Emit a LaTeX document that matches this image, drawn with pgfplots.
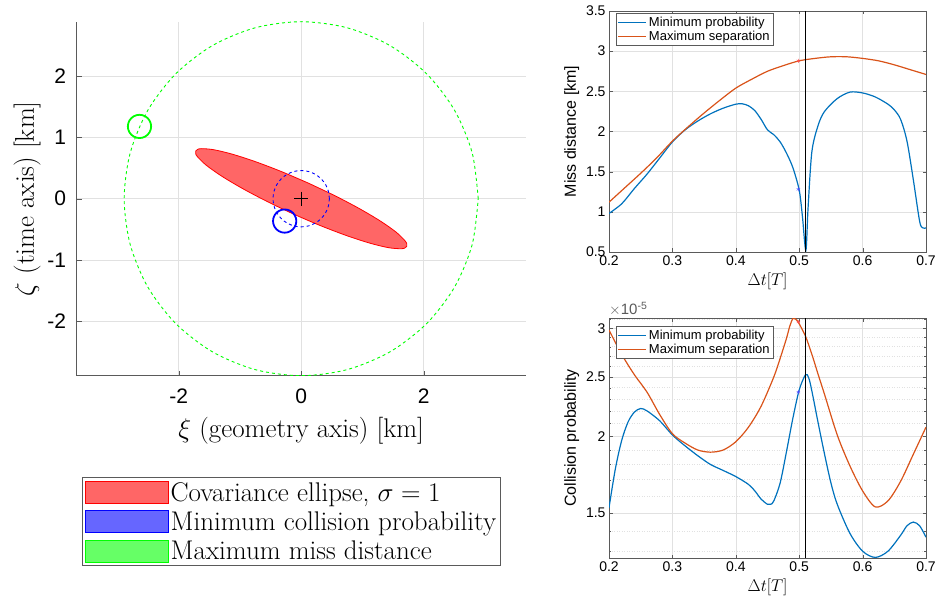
\RequirePackage{fix-cm}
\documentclass[border=0pt]{standalone}
\usepackage[no-math]{fontspec}
\setsansfont{Liberation Sans}
\usepackage{pgfplots}
\usepackage{pgfplotstable}
\pgfplotsset{compat=1.18}
\definecolor{mblue}{RGB}{0,114,189}
\definecolor{morange}{RGB}{217,83,25}
\definecolor{gridc}{RGB}{225,225,225}
\definecolor{axc}{RGB}{90,90,90}

\pgfplotstableread{
c s
1 0
0.9659 0.2588
0.8660 0.5
0.7071 0.7071
0.5 0.8660
0.2588 0.9659
0 1
-0.2588 0.9659
-0.5 0.8660
-0.7071 0.7071
-0.8660 0.5
-0.9659 0.2588
-1 0
-0.9659 -0.2588
-0.8660 -0.5
-0.7071 -0.7071
-0.5 -0.8660
-0.2588 -0.9659
0 -1
0.2588 -0.9659
0.5 -0.8660
0.7071 -0.7071
0.8660 -0.5
0.9659 -0.2588
1 0
}\unitcircle

\pgfplotstableread{
x y
0.1152 0.2552
-0.3345 0.4478
-0.7615 0.6099
-1.1365 0.7304
-1.4341 0.8011
-1.6340 0.8172
-1.6928 0.8043
-1.7225 0.7777
-1.7228 0.7377
-1.6936 0.6852
-1.5493 0.5459
-1.2995 0.3694
-0.9611 0.1679
-0.5571 -0.0452
-0.1152 -0.2552
0.3345 -0.4478
0.7615 -0.6099
1.1365 -0.7304
1.4341 -0.8011
1.6340 -0.8172
1.6928 -0.8043
1.7225 -0.7777
1.7228 -0.7377
1.6936 -0.6852
1.5493 -0.5459
1.2995 -0.3694
0.9611 -0.1679
0.5571 0.0452
0.1152 0.2552
}\ellipsetab

\pgfplotstableread{
x y
0.20 1.12
0.225 1.30
0.25 1.48
0.275 1.67
0.30 1.88
0.325 2.06
0.35 2.23
0.375 2.39
0.40 2.54
0.425 2.65
0.45 2.75
0.475 2.82
0.50 2.88
0.525 2.91
0.55 2.93
0.575 2.93
0.60 2.91
0.625 2.88
0.65 2.83
0.675 2.77
0.70 2.71
}\missmax

\pgfplotstableread{
x y
0.20 0.98
0.22 1.10
0.24 1.29
0.26 1.47
0.28 1.67
0.30 1.87
0.32 2.02
0.34 2.13
0.36 2.22
0.38 2.29
0.40 2.34
0.41 2.345
0.42 2.32
0.43 2.26
0.44 2.15
0.45 2.02
0.46 1.96
0.47 1.87
0.48 1.73
0.49 1.55
0.50 1.27
0.505 0.95
0.5105 0.52
0.514 1.05
0.52 1.75
0.53 2.08
0.54 2.25
0.56 2.41
0.58 2.49
0.60 2.48
0.62 2.43
0.64 2.34
0.65 2.27
0.66 2.15
0.67 1.88
0.68 1.40
0.69 0.88
0.695 0.80
0.70 0.80
}\missmin

\pgfplotstableread{
x y
0.20 2.98e-5
0.22 2.72e-5
0.24 2.52e-5
0.26 2.36e-5
0.28 2.17e-5
0.30 2.02e-5
0.32 1.95e-5
0.34 1.90e-5
0.36 1.885e-5
0.38 1.90e-5
0.40 1.96e-5
0.42 2.07e-5
0.44 2.24e-5
0.46 2.50e-5
0.47 2.68e-5
0.48 2.89e-5
0.485 3.02e-5
0.49 3.11e-5
0.495 3.10e-5
0.50 3.05e-5
0.51 2.91e-5
0.52 2.72e-5
0.53 2.52e-5
0.54 2.34e-5
0.56 2.01e-5
0.58 1.79e-5
0.60 1.63e-5
0.62 1.535e-5
0.64 1.57e-5
0.66 1.69e-5
0.68 1.87e-5
0.70 2.07e-5
}\probmax

\pgfplotstableread{
x y
0.20 1.53e-5
0.21 1.77e-5
0.22 1.97e-5
0.23 2.11e-5
0.24 2.19e-5
0.25 2.22e-5
0.26 2.20e-5
0.28 2.12e-5
0.30 2.01e-5
0.32 1.93e-5
0.34 1.86e-5
0.36 1.80e-5
0.38 1.76e-5
0.40 1.72e-5
0.42 1.67e-5
0.43 1.63e-5
0.44 1.58e-5
0.45 1.55e-5
0.455 1.55e-5
0.46 1.57e-5
0.47 1.68e-5
0.48 1.89e-5
0.49 2.14e-5
0.50 2.38e-5
0.51 2.52e-5
0.515 2.49e-5
0.52 2.37e-5
0.53 2.10e-5
0.54 1.87e-5
0.55 1.68e-5
0.56 1.55e-5
0.58 1.39e-5
0.60 1.30e-5
0.62 1.27e-5
0.64 1.30e-5
0.66 1.38e-5
0.67 1.43e-5
0.68 1.45e-5
0.69 1.43e-5
0.70 1.37e-5
}\probmin

\pgfplotsset{
  mstyle/.style={
    scale only axis, width=317pt,
    xmin=0.2, xmax=0.7, xtick={0.2,0.3,0.4,0.5,0.6,0.7},
    grid=major, grid style={gridc, line width=0.5pt},
    axis line style={axc, line width=0.6pt}, tick style={axc},
    major tick length=3.5pt,
    tick label style={font=\sffamily\fontsize{14}{16}\selectfont},
    /pgf/number format/assume math mode=true,
    ylabel style={font=\sffamily\fontsize{16}{19}\selectfont},
    xlabel style={font=\fontsize{17}{20}\selectfont},
    xlabel={$\Delta t[T]$},
    legend style={font=\sffamily\fontsize{13}{15}\selectfont, draw=axc, line width=0.6pt,
      legend cell align=left, anchor=north west, inner sep=1.5pt, row sep=-1pt},
    legend image code/.code={\draw[##1] (0pt,0pt) -- (28pt,0pt);},
  }
}

\begin{document}
\begin{tikzpicture}
\useasboundingbox (0pt,0pt) rectangle (936pt,603pt);

% ---------------- left panel ----------------
\begin{axis}[
  at={(76.7pt,227.3pt)}, anchor=south west, scale only axis,
  width=449pt, height=354pt,
  xmin=-3.665, xmax=3.665, ymin=-2.89, ymax=2.89,
  axis x line*=bottom, axis y line*=left,
  xtick={-2,0,2}, xticklabels={-2,0,2},
  ytick={-2,-1,0,1,2}, yticklabels={-2,-1,0,1,2},
  grid=major, grid style={gridc, line width=0.7pt},
  axis line style={axc, line width=0.9pt}, tick style={axc},
  major tick length=5pt,
  tick label style={font=\sffamily\fontsize{21}{24}\selectfont},
  xticklabel style={yshift=-10pt},
  yticklabel style={xshift=-7pt},
  xlabel={$\xi$ (geometry axis) [km]}, ylabel={$\zeta$ (time axis) [km]},
  label style={font=\fontsize{27}{31}\selectfont},
  xlabel style={yshift=-6pt},
  legend style={at={(axis description cs:0.0118,-0.287)}, anchor=north west,
    draw=axc, line width=0.8pt, font=\fontsize{27}{31}\selectfont,
    legend cell align=left, inner sep=2.5pt, row sep=5pt},
  legend image code/.code={\draw[#1] (0pt,-11pt) rectangle (83pt,11pt);},
]
\addlegendimage{draw=red, fill=red!60}
\addlegendimage{draw=blue, fill=blue!60}
\addlegendimage{draw=green, fill=green!60}
\addplot[draw=red, fill=red!60, line width=0.8pt, smooth, forget plot] table[x=x,y=y] {\ellipsetab};
\addplot[green, line width=0.9pt, dash pattern=on 3pt off 3pt, smooth, forget plot]
  table[x expr=2.89*\thisrow{c}, y expr=2.89*\thisrow{s}] {\unitcircle};
\addplot[blue, line width=0.9pt, dash pattern=on 3pt off 3pt, smooth, forget plot]
  table[x expr=0.46*\thisrow{c}, y expr=0.46*\thisrow{s}] {\unitcircle};
\addplot[blue, line width=1.8pt, smooth, forget plot]
  table[x expr=-0.27+0.19*\thisrow{c}, y expr=-0.365+0.19*\thisrow{s}] {\unitcircle};
\addplot[green, line width=1.8pt, smooth, forget plot]
  table[x expr=-2.64+0.19*\thisrow{c}, y expr=1.18+0.19*\thisrow{s}] {\unitcircle};
\addplot[only marks, mark=+, mark size=7pt, black, line width=0.9pt, forget plot] coordinates {(0,0)};
\legend{Covariance ellipse{,} $\sigma=1$, Minimum collision probability, Maximum miss distance}
\end{axis}

% ---------------- top right ----------------
\begin{axis}[mstyle,
  at={(609pt,351pt)}, anchor=south west, height=241pt,
  ymin=0.5, ymax=3.5, ytick={0.5,1,1.5,2,2.5,3,3.5},
  ylabel={Miss distance [km]},
  legend style={at={(axis description cs:0.022,0.992)}},
]
\addplot[mblue, line width=1.2pt, smooth] table[x=x,y=y] {\missmin};
\addlegendentry{Minimum probability}
\addplot[morange, line width=1.2pt, smooth] table[x=x,y=y] {\missmax};
\addlegendentry{Maximum separation}
\addplot[black, line width=1pt, forget plot] coordinates {(0.51,0.5) (0.51,3.5)};
\addplot[only marks, mark=asterisk, mark size=2pt, red!70, forget plot] coordinates {(0.4987,2.88)};
\addplot[only marks, mark=asterisk, mark size=2pt, blue!70, forget plot] coordinates {(0.4987,1.28)};
\end{axis}

% ---------------- bottom right ----------------
\begin{axis}[mstyle, name=bot,
  at={(609pt,45pt)}, anchor=south west, height=240pt,
  ymode=log, ymin=1.267e-5, ymax=3.117e-5,
  ytick={1.5e-5,2e-5,2.5e-5,3e-5}, yticklabels={1.5,2,2.5,3},
  minor ytick={1.3e-5,1.4e-5,1.6e-5,1.7e-5,1.8e-5,1.9e-5,2.1e-5,2.2e-5,2.3e-5,2.4e-5,2.6e-5,2.7e-5,2.8e-5,2.9e-5,3.1e-5},
  minor tick length=2pt,
  minor grid style={gridc, line width=0.5pt, dotted},
  grid=both,
  ylabel={Collision probability},
  legend style={at={(axis description cs:0.022,0.967)}},
]
\addplot[mblue, line width=1.2pt, smooth] table[x=x,y=y] {\probmin};
\addlegendentry{Minimum probability}
\addplot[morange, line width=1.2pt, smooth] table[x=x,y=y] {\probmax};
\addlegendentry{Maximum separation}
\addplot[black, line width=1pt, forget plot] coordinates {(0.51,1.267e-5) (0.51,3.117e-5)};
\addplot[only marks, mark=asterisk, mark size=2pt, red!70, forget plot] coordinates {(0.4987,3.07e-5)};
\addplot[only marks, mark=asterisk, mark size=2pt, blue!70, forget plot] coordinates {(0.4987,2.36e-5)};
\end{axis}
\node[anchor=south west, inner sep=0pt, yshift=2pt, font=\sffamily\fontsize{15}{17}\selectfont, text=axc]
  at (bot.north west) {$\times$10\textsuperscript{-5}};
\end{tikzpicture}
\end{document}
